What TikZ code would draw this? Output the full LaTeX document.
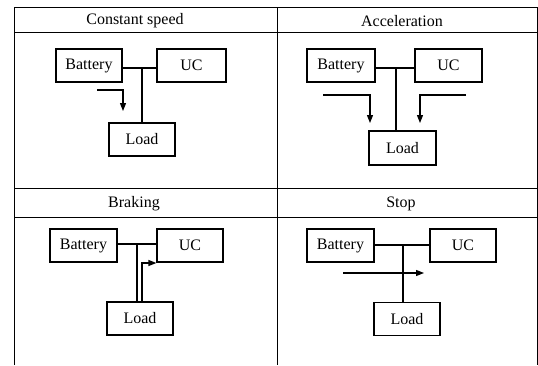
\documentclass[tikz,border=0pt]{standalone}
\usepackage{fontspec}
\setmainfont{Liberation Serif}
\usetikzlibrary{positioning, arrows.meta}

\begin{document}
\begin{tikzpicture}[x=1pt, y=-1pt, font=\fontsize{16}{19}\selectfont,
      box/.style={draw, line width=1.2pt, minimum width=66pt, minimum height=33pt, inner sep=0pt},
      wire/.style={line width=1.2pt},
      flow/.style={line width=1.2pt, -{Triangle[length=8pt, width=6pt]}},
      grid/.style={line width=0.9pt}]

      \useasboundingbox (0,0) rectangle (538,365);

      % Table
      \draw[grid] (14,365) -- (14,7) -- (537,7) -- (537,365);
      \draw[grid] (277,7) -- (277,365);
      \draw[grid] (14,32) -- (537,32);
      \draw[grid] (14,188) -- (537,188);
      \draw[grid] (14,217) -- (537,217);

      % Titles
      \node (tconst) at (135,21) {Constant speed};
      \node (taccel) at (402,21) {Acceleration};
      \node (tbrake) at (134,204) {Braking};
      \node (tstop) at (401,204) {Stop};

      % Constant speed
      \node[box] (bat1) at (89,65.5) {Battery};
      \node[box, minimum width=69pt] (uc1) at (191.5,65.5) {UC};
      \node[box] (load1) at (142,139.5) {Load};
      \coordinate (j1) at (142,68);
      \draw[wire] (bat1.east |- j1) -- (uc1.west |- j1);
      \draw[wire] (j1) -- (j1 |- load1.north);
      \coordinate (a1s) at (97,90);
      \coordinate (a1e) at (123,111);
      \draw[flow] (a1s) -| (a1e);

      % Acceleration
      \node[box, minimum width=68pt] (bat2) at (341,65.5) {Battery};
      \node[box, minimum width=67pt] (uc2) at (448.5,65.5) {UC};
      \node[box, minimum width=67pt, minimum height=34pt] (load2) at (402.5,148) {Load};
      \coordinate (j2) at (396,68);
      \draw[wire] (bat2.east |- j2) -- (uc2.west |- j2);
      \draw[wire] (j2) -- (j2 |- load2.north);
      \coordinate (a2s) at (323,95);
      \coordinate (a2e) at (370,123);
      \draw[flow] (a2s) -| (a2e);
      \coordinate (a3s) at (466,95);
      \coordinate (a3e) at (420,123);
      \draw[flow] (a3s) -| (a3e);

      % Braking
      \node[box, minimum width=67pt] (bat3) at (83.5,245.5) {Battery};
      \node[box] (uc3) at (190,245.5) {UC};
      \node[box] (load3) at (140,318.5) {Load};
      \coordinate (j3) at (137,244);
      \draw[wire] (bat3.east |- j3) -- (uc3.west |- j3);
      \draw[wire] (j3) -- (j3 |- load3.north);
      \coordinate (b3) at (142,263);
      \draw[flow] (b3 |- load3.north) |- (b3 -| uc3.west);

      % Stop
      \node[box, minimum width=67pt] (bat4) at (340.5,245.5) {Battery};
      \node[box] (uc4) at (463,245.5) {UC};
      \node[box] (load4) at (407,319) {Load};
      \coordinate (j4) at (403,245);
      \draw[wire] (bat4.east |- j4) -- (uc4.west |- j4);
      \draw[wire] (j4) -- (j4 |- load4.north);
      \coordinate (a4s) at (343,273);
      \coordinate (a4e) at (424,273);
      \draw[flow] (a4s) -- (a4e);
\end{tikzpicture}
\end{document}
